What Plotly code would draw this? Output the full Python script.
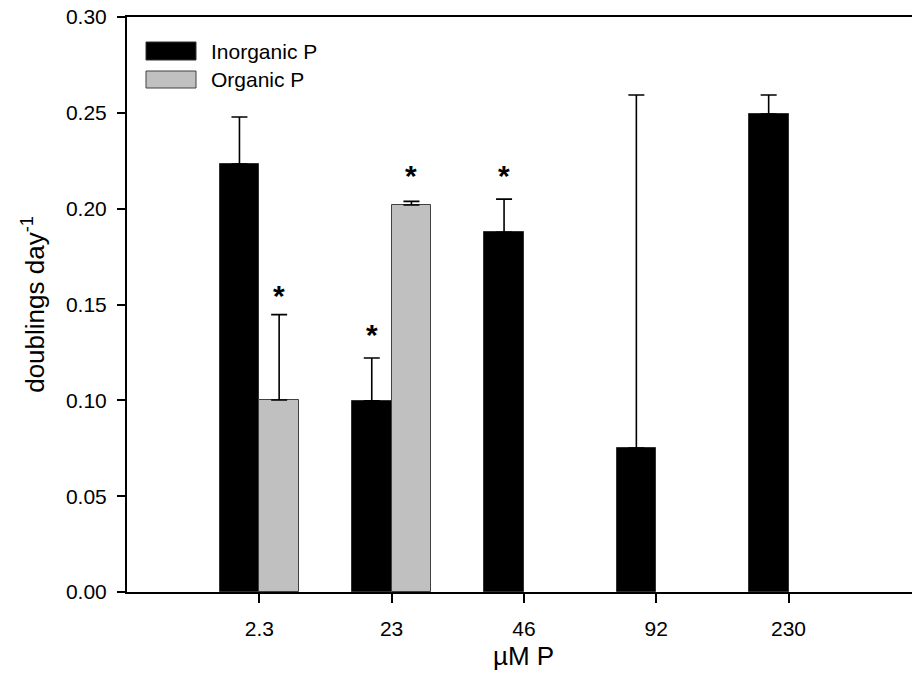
import plotly.graph_objects as go

# Growth rates (doublings per day) under inorganic vs organic phosphorus supply
conc_labels = ["2.3", "23", "46", "92", "230"]
inorganic = [0.2233, 0.0998, 0.1877, 0.0751, 0.2494]
inorganic_err = [0.0245, 0.0223, 0.0173, 0.1842, 0.0099]
organic = [0.1002, 0.2019, None, None, None]
organic_err = [0.0445, 0.0019, None, None, None]

# Significance markers: (category index, series, height of the asterisk)
star_cat = [0, 1, 1, 2]
star_series = ["organic", "inorganic", "organic", "inorganic"]
star_y = [0.1565, 0.1357, 0.2191, 0.2188]

FONT = "Arial, Liberation Sans, sans-serif"
W, H = 912, 694
ML, MR, MT, MB = 127, 0, 17, 102
BAR_W = 0.3

xs = list(range(len(conc_labels)))
plot_w = W - ML - MR
plot_h = H - MT - MB


def px(xp):
    return (xp - ML) / plot_w


def py(yp):
    return (H - MB - yp) / plot_h


fig = go.Figure()
fig.add_trace(go.Bar(
    x=xs, y=inorganic, width=BAR_W, offset=-BAR_W,
    marker=dict(color="black", line=dict(color="#303030", width=1)),
    error_y=dict(type="data", array=inorganic_err, symmetric=False,
                 arrayminus=[0] * len(xs), color="black", thickness=1.6, width=8),
    showlegend=False,
))
fig.add_trace(go.Bar(
    x=xs, y=organic, width=BAR_W, offset=0,
    marker=dict(color="#c0c0c0", line=dict(color="#404040", width=1)),
    error_y=dict(type="data", array=organic_err, symmetric=False,
                 arrayminus=[0] * len(xs), color="black", thickness=1.6, width=8),
    showlegend=False,
))

annotations = []
for c, s, y in zip(star_cat, star_series, star_y):
    xc = c - BAR_W / 2 if s == "inorganic" else c + BAR_W / 2
    annotations.append(dict(x=xc, y=y, xref="x", yref="y", text="<b>*</b>",
                            showarrow=False, yanchor="middle", yshift=-3,
                            font=dict(family=FONT, size=30, color="black")))

# x-axis title centred under the middle category
annotations.append(dict(x=2, y=py(656), xref="x", yref="paper", text="µM P",
                        showarrow=False, yanchor="middle",
                        font=dict(family=FONT, size=26, color="black")))

# legend drawn as swatches + labels
shapes = [
    dict(type="rect", xref="paper", yref="paper", x0=px(146), x1=px(196),
         y0=py(60), y1=py(42), fillcolor="black", line=dict(color="#303030", width=1)),
    dict(type="rect", xref="paper", yref="paper", x0=px(146), x1=px(196),
         y0=py(88), y1=py(71), fillcolor="#c0c0c0", line=dict(color="#404040", width=1)),
]
for label, yc in [("Inorganic P", 51), ("Organic P", 80)]:
    annotations.append(dict(x=px(209), y=py(yc), xref="paper", yref="paper", text=label,
                            showarrow=False, xanchor="left", yanchor="middle",
                            font=dict(family=FONT, size=21, color="black")))

fig.update_layout(
    width=W, height=H,
    margin=dict(l=ML, r=MR, t=MT, b=MB),
    paper_bgcolor="white", plot_bgcolor="white",
    font=dict(family=FONT, size=21, color="black"),
    bargap=0, barmode="overlay",
    annotations=annotations, shapes=shapes,
)
fig.update_xaxes(
    range=[-1, -1 + plot_w / 132.3],
    tickmode="array", tickvals=xs, ticktext=conc_labels,
    ticks="outside", ticklen=9, tickwidth=1.5, tickcolor="black",
    showline=True, linecolor="black", linewidth=2, mirror=True,
    showgrid=False, zeroline=False,
    ticklabelstandoff=8,
    tickfont=dict(family=FONT, size=21),
)
fig.update_yaxes(
    range=[0, 0.30], tickmode="linear", tick0=0, dtick=0.05, tickformat=".2f",
    ticks="outside", ticklen=8, tickwidth=1.5, tickcolor="black",
    showline=True, linecolor="black", linewidth=2,
    showgrid=False, zeroline=False,
    ticklabelstandoff=6,
    tickfont=dict(family=FONT, size=21),
    title=dict(text="doublings day<sup>-1</sup>", standoff=14,
               font=dict(family=FONT, size=26)),
)

fig.write_html("out.html")
